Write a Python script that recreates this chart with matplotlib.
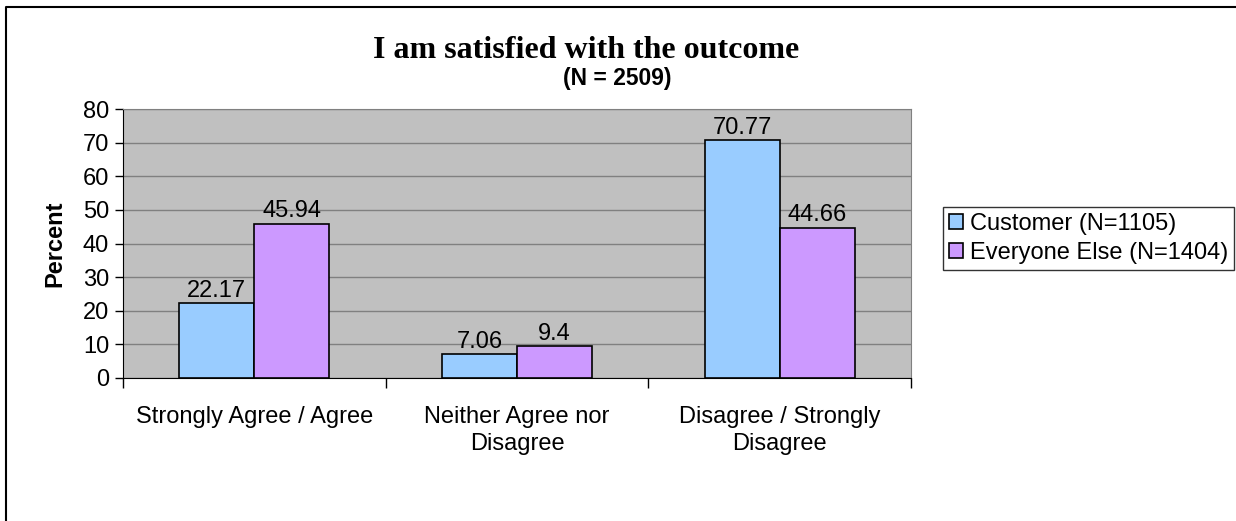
import numpy as np
import matplotlib.pyplot as plt
from matplotlib.lines import Line2D

# Survey data
categories = ['Strongly Agree / Agree', 'Neither Agree nor\nDisagree', 'Disagree / Strongly\nDisagree']
customer = [22.17, 7.06, 70.77]
everyone_else = [45.94, 9.4, 44.66]
series_names = ['Customer (N=1105)', 'Everyone Else (N=1404)']
yticks = [0, 10, 20, 30, 40, 50, 60, 70, 80]

plt.rcParams['font.family'] = ['Liberation Sans', 'DejaVu Sans']

fig = plt.figure(figsize=(12.36, 5.21), dpi=100)
W, H = 1236, 521

# axes placed to match the plot area in pixels
ax = fig.add_axes([123 / W, 1 - 378 / H, (911 - 123) / W, (378 - 109) / H])
ax.set_facecolor('#C0C0C0')

x = np.arange(len(categories))
bw = 0.285
b1 = ax.bar(x - bw / 2, customer, bw, color='#99CCFF', edgecolor='black', linewidth=1.2,
            label=series_names[0], zorder=3)
b2 = ax.bar(x + bw / 2, everyone_else, bw, color='#CC99FF', edgecolor='black', linewidth=1.2,
            label=series_names[1], zorder=3)

for bars, vals in [(b1, customer), (b2, everyone_else)]:
    for rect, v in zip(bars, vals):
        ax.annotate(f'{v:g}', (rect.get_x() + rect.get_width() / 2, v),
                    xytext=(0, 1), textcoords='offset points',
                    ha='center', va='bottom', fontsize=17)

ax.set_xlim(-0.5, 2.5)
ax.set_ylim(0, 80)
ax.set_yticks(yticks)
ax.tick_params(axis='y', labelsize=17, length=6, width=1, direction='out', pad=4)
ax.yaxis.grid(True, color='#808080', linewidth=1, zorder=0)
ax.set_axisbelow(True)

# category boundary ticks, labels at centers
ax.set_xticks([-0.5, 0.5, 1.5, 2.5])
ax.set_xticklabels([])
ax.set_xticks(x, minor=True)
ax.set_xticklabels(categories, minor=True, fontsize=17, linespacing=1.3)
ax.tick_params(axis='x', which='major', length=7, width=1, direction='out')
ax.tick_params(axis='x', which='minor', length=0, pad=20)

ax.spines['left'].set_color('black')
ax.spines['bottom'].set_color('black')
ax.spines['top'].set_color('#808080')
ax.spines['right'].set_color('#808080')

ax.set_ylabel('Percent', fontsize=17, fontweight='bold', labelpad=12)

# titles
fig.text(586 / W, 1 - 50 / H, 'I am satisfied with the outcome', ha='center', va='center',
         fontsize=23, fontweight='bold', family=['Liberation Serif', 'DejaVu Serif'])
fig.text(617 / W, 1 - 79 / H, '(N = 2509)', ha='center', va='center',
         fontsize=16.5, fontweight='bold')

leg = fig.legend(handles=[b1, b2], loc='upper left', bbox_to_anchor=(943 / W, 1 - 207 / H),
                 fontsize=17, frameon=True, fancybox=False, edgecolor='black',
                 handlelength=0.6, handleheight=0.6, handletextpad=0.3,
                 borderpad=0.25, labelspacing=0.3, borderaxespad=0)
leg.get_frame().set_linewidth(1)

# outer chart frame (left and top edges visible)
fig.add_artist(Line2D([6 / W, 6 / W, 1.0], [0.0, 1 - 7 / H, 1 - 7 / H],
                      transform=fig.transFigure, color='black', linewidth=1.5))

fig.savefig('out.png', dpi=100)
